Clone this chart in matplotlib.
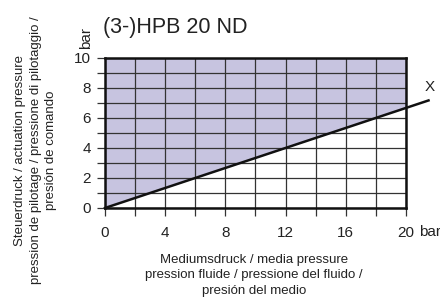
import numpy as np
import matplotlib.pyplot as plt

plt.rcParams['font.family'] = ['Liberation Sans', 'DejaVu Sans']

# media pressure (bar) vs. minimum actuation pressure (bar)
media_p = [0, 21.5]
actuation_p = [0, 7.17]
x_ticks = [0, 4, 8, 12, 16, 20]
y_ticks = [0, 2, 4, 6, 8, 10]

fill_col = '#c7c4e0'

fig = plt.figure(figsize=(4.4, 3.0), dpi=100)
ax = fig.add_axes([0.2386, 0.3067, 0.684, 0.5])

ax.set_xlim(0, 20)
ax.set_ylim(0, 10)

# shaded region above the line
xs = np.array([0, 20])
ys = np.interp(xs, media_p, actuation_p)
ax.fill_between(xs, ys, 10, color=fill_col, zorder=0, lw=0)

ax.set_xticks(np.arange(0, 21, 2))
ax.set_yticks(np.arange(0, 11, 1))
ax.grid(True, color='#333333', lw=0.9, zorder=1)
ax.set_xticklabels([str(v) if v in x_ticks else '' for v in range(0, 21, 2)])
ax.set_yticklabels([str(v) if v in y_ticks else '' for v in range(0, 11)])
ax.tick_params(length=6, width=0.9, color='#333333', labelsize=11, labelcolor='#222222', pad=4)
ax.tick_params(axis='x', pad=7)
for s in ax.spines.values():
    s.set_linewidth(1.8)
    s.set_color('#111111')

ax.plot(media_p, actuation_p, color='#111111', lw=1.8, clip_on=False, zorder=3)
ax.text(21.55, 8.07, 'X', fontsize=11, color='#222222', ha='center', va='center')

ax.text(20.85, -1.6, 'bar', fontsize=11, color='#222222', ha='left', va='center', clip_on=False)
ax.text(-1.25, 10.6, 'bar', fontsize=11, color='#222222', rotation=90, ha='center', va='bottom')
ax.text(-0.15, 12.0, '(3-)HPB 20 ND', fontsize=15.5, color='#222222', ha='left', va='center')

fig.text(0.081, 0.5, 'Steuerdruck / actuation pressure\npression de pilotage / pressione di pilotaggio /\npresión de comando',
         rotation=90, ha='center', va='center', fontsize=9.5, color='#222222', linespacing=1.4)
fig.text(0.577, 0.083, 'Mediumsdruck / media pressure\npression fluide / pressione del fluido /\npresión del medio',
         ha='center', va='center', fontsize=9.5, color='#222222', linespacing=1.4)

fig.savefig('out.png', dpi=100)
